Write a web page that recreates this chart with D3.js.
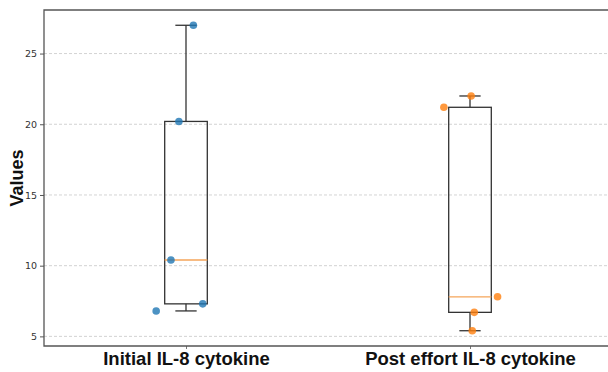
<!DOCTYPE html>
<html>
<head>
<meta charset="utf-8">
<script src="https://cdn.jsdelivr.net/npm/d3@7"></script>
<style>
  html, body { margin: 0; padding: 0; background: #fff; overflow: hidden; }
  svg { display: block; font-family: "Liberation Sans", Arial, sans-serif; }
</style>
</head>
<body>
<script>
const categories = ["Initial IL-8 cytokine", "Post effort IL-8 cytokine"];
const initialValues = [27.0, 20.2, 10.4, 6.8, 7.3];
const postValues = [22.0, 21.2, 7.8, 6.7, 5.4];
// horizontal jitter of each point, in category units
const initialJitter = [0.026, -0.025, -0.053, -0.105, 0.059];
const postJitter = [0.004, -0.092, 0.097, 0.015, 0.008];
const yTicks = [5, 10, 15, 20, 25];

const series = [
  { name: categories[0], values: initialValues, jitter: initialJitter, color: "#1f77b4" },
  { name: categories[1], values: postValues, jitter: postJitter, color: "#ff7f0e" }
];

const width = 608, height = 372;
const margin = { top: 10, right: -4, bottom: 26, left: 44 };

const svg = d3.select("body").append("svg")
  .attr("width", width)
  .attr("height", height);

const allVals = initialValues.concat(postValues);
const lo = d3.min(allVals), hi = d3.max(allVals);
const pad = (hi - lo) * 0.05;

const x = d3.scaleLinear()
  .domain([0.5, 2.5])
  .range([margin.left, width - margin.right]);

const y = d3.scaleLinear()
  .domain([lo - pad, hi + pad])
  .range([height - margin.bottom, margin.top]);

// grid lines
svg.append("g")
  .selectAll("line")
  .data(yTicks)
  .join("line")
  .attr("x1", x.range()[0])
  .attr("x2", x.range()[1])
  .attr("y1", d => y(d))
  .attr("y2", d => y(d))
  .attr("stroke", "#c8c8c8")
  .attr("stroke-width", 0.8)
  .attr("stroke-dasharray", "3,2");

// box plot stats like matplotlib
function stats(vals) {
  const s = vals.slice().sort(d3.ascending);
  const q1 = d3.quantile(s, 0.25), med = d3.quantile(s, 0.5), q3 = d3.quantile(s, 0.75);
  const iqr = q3 - q1;
  const wLo = d3.min(s.filter(v => v >= q1 - 1.5 * iqr));
  const wHi = d3.max(s.filter(v => v <= q3 + 1.5 * iqr));
  return { q1, med, q3, wLo, wHi };
}

const boxW = 0.15, capW = 0.075;
const boxes = svg.append("g");

series.forEach((s, i) => {
  const pos = i + 1;
  const st = stats(s.values);
  const g = boxes.append("g")
    .attr("stroke", "#333")
    .attr("stroke-width", 1.3)
    .attr("fill", "none");

  // whiskers
  g.append("line")
    .attr("x1", x(pos)).attr("x2", x(pos))
    .attr("y1", y(st.q3)).attr("y2", y(st.wHi));
  g.append("line")
    .attr("x1", x(pos)).attr("x2", x(pos))
    .attr("y1", y(st.q1)).attr("y2", y(st.wLo));
  // caps
  [st.wHi, st.wLo].forEach(v => {
    g.append("line")
      .attr("x1", x(pos - capW / 2)).attr("x2", x(pos + capW / 2))
      .attr("y1", y(v)).attr("y2", y(v));
  });
  // box
  g.append("rect")
    .attr("x", x(pos - boxW / 2))
    .attr("y", y(st.q3))
    .attr("width", x(pos + boxW / 2) - x(pos - boxW / 2))
    .attr("height", y(st.q1) - y(st.q3));
  // median
  boxes.append("line")
    .attr("x1", x(pos - boxW / 2)).attr("x2", x(pos + boxW / 2))
    .attr("y1", y(st.med)).attr("y2", y(st.med))
    .attr("stroke", "#f5a55a")
    .attr("stroke-width", 1.3);
});

// points
series.forEach((s, i) => {
  svg.append("g")
    .selectAll("circle")
    .data(s.values)
    .join("circle")
    .attr("cx", (d, j) => x(i + 1 + s.jitter[j]))
    .attr("cy", d => y(d))
    .attr("r", 3.8)
    .attr("fill", s.color)
    .attr("fill-opacity", 0.8);
});

// y axis
const yAxis = svg.append("g")
  .attr("transform", `translate(${margin.left},0)`)
  .call(d3.axisLeft(y).tickValues(yTicks).tickSize(4).tickPadding(3));
yAxis.select(".domain").remove();
yAxis.selectAll(".tick line").attr("stroke", "#555").attr("stroke-width", 1);
yAxis.selectAll(".tick text")
  .attr("fill", "#333")
  .style("font-size", "9.5px")
  .style("font-family", "'DejaVu Sans', sans-serif");

// x axis
const xAxis = svg.append("g")
  .attr("transform", `translate(0,${height - margin.bottom})`)
  .call(d3.axisBottom(x).tickValues([1, 2]).tickFormat((d) => categories[d - 1]).tickSize(3).tickPadding(3));
xAxis.select(".domain").remove();
xAxis.selectAll(".tick line").attr("stroke", "#777");
xAxis.selectAll(".tick text")
  .attr("fill", "#111")
  .style("font-size", "18.5px")
  .style("font-weight", "bold");

// spines: left, top, bottom (right one is cut off in the original)
const [x0, x1] = x.range(), [yb, yt] = y.range();
svg.append("path")
  .attr("d", `M${x1},${yt}H${x0}V${yb}H${x1}`)
  .attr("fill", "none")
  .attr("stroke", "#555")
  .attr("stroke-width", 1.3);

// y label
svg.append("text")
  .attr("transform", `translate(23,${(yt + yb) / 2}) rotate(-90)`)
  .attr("text-anchor", "middle")
  .style("font-size", "18px")
  .style("font-weight", "bold")
  .attr("fill", "#111")
  .text("Values");
</script>
</body>
</html>
